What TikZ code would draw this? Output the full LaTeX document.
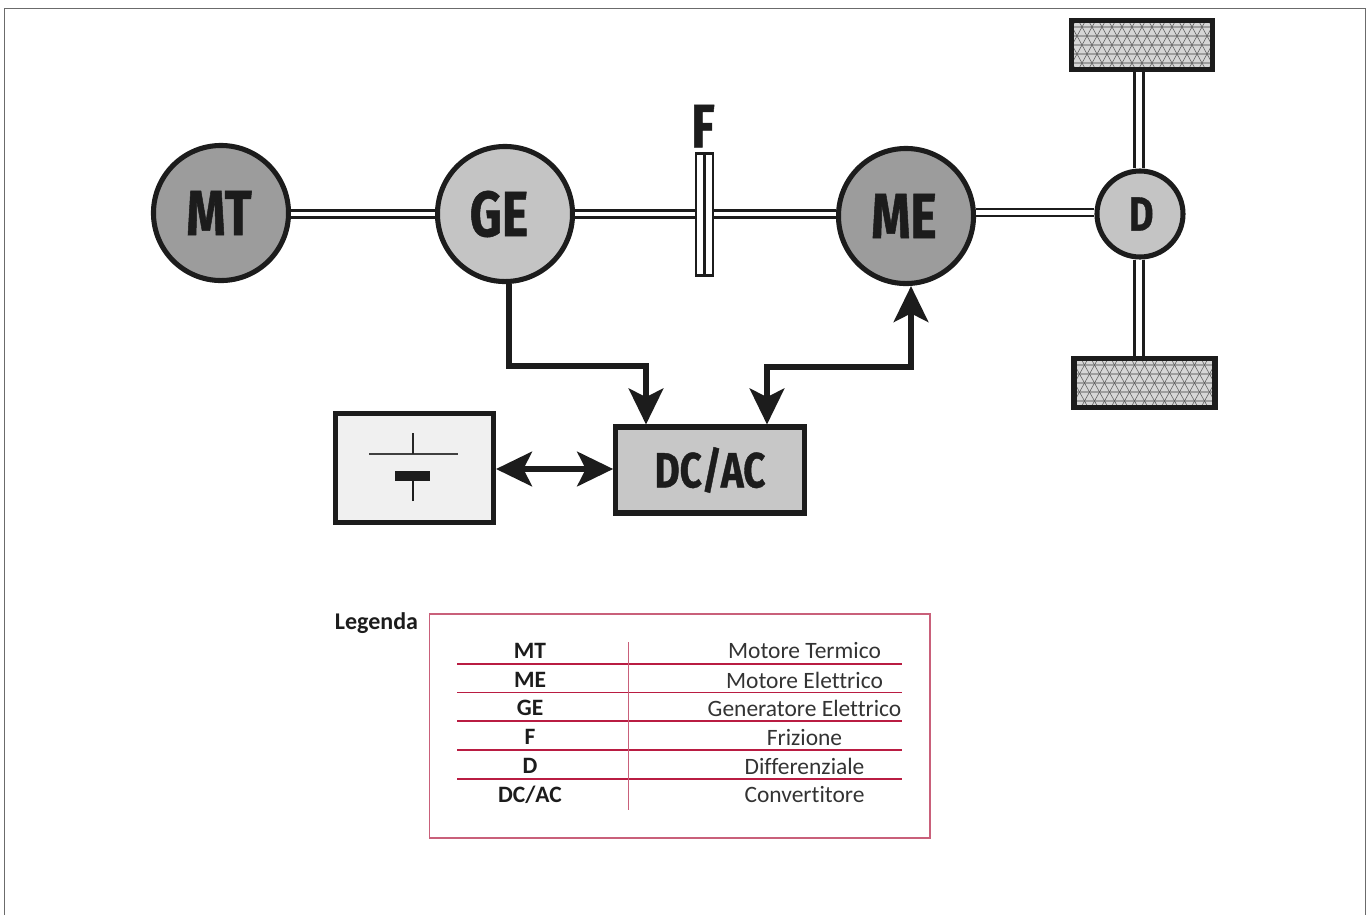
\documentclass[tikz,border=0pt]{standalone}
\usepackage{fontspec}
\usetikzlibrary{arrows.meta,calc}
\setmainfont{Carlito}[Ligatures=NoCommon]
\newfontfamily\labfont[FakeStretch=0.78,FakeBold=0.8]{Fira Sans Bold}
\definecolor{crim}{HTML}{B91C42}
\definecolor{crimpale}{HTML}{C9607A}
\definecolor{darkfill}{HTML}{9C9C9C}
\definecolor{lightfill}{HTML}{C4C4C4}
\definecolor{ink}{HTML}{1C1C1C}
\tikzset{
  px/.style={x=0.75pt,y=-0.75pt},
  unit/.style={draw=ink,line width=3.8pt,inner sep=0pt,text=ink,font=\labfont\fontsize{48}{48}\selectfont},
  motor/.style={unit,circle,minimum size=101.3pt,fill=darkfill},
  genr/.style={motor,fill=lightfill},
  diff/.style={unit,circle,minimum size=64.5pt,fill=lightfill,font=\labfont\fontsize{36}{36}\selectfont},
  shaft/.style={draw=ink,line width=2pt,double=white,double distance=3.4pt},
  axle/.style={draw=ink,line width=1.9pt,double=white,double distance=5pt},
  wheel/.style={draw=ink,line width=4.2pt,minimum width=105.5pt,minimum height=37pt,inner sep=0pt,fill=black!16,
    path picture={
      \begin{scope}[shift={(path picture bounding box.center)},x=0.75pt,y=-0.75pt]
        \foreach \r in {-18,-9,...,18} \draw[black!38,line width=0.8pt] (-80,\r) -- (80,\r);
        \foreach \c in {-120,-110,...,120} {
          \draw[black!65,line width=0.4pt] (\c-15,-27) -- (\c+15,27);
          \draw[black!65,line width=0.4pt] (\c+15,-27) -- (\c-15,27);
        }
      \end{scope}}},
  flow/.style={draw=ink,line width=3.8pt,line join=miter},
  bigarrow/.tip={Stealth[length=27pt,width=26pt,inset=6.5pt]},
  rule/.style={draw=crim,line width=0.8pt},
  key/.style={font=\fontsize{17.6}{19}\selectfont\bfseries,text=ink,inner sep=0pt},
  desc/.style={font=\fontsize{17.6}{19}\selectfont,text=ink!90,inner sep=0pt}
}
\begin{document}
\begin{tikzpicture}[px]
\useasboundingbox (0,0) rectangle (1372,915);
% outer frame
\coordinate (fa) at (4.5,915);
\coordinate (fb) at (4.5,8.5);
\coordinate (fc) at (1365.5,8.5);
\coordinate (fd) at (1365.5,915);
\draw[draw=black!58,line width=1.2pt] (fa) -- (fb) -- (fc) -- (fd);
% level helpers
\coordinate (s1) at (0,214);
\coordinate (s2) at (0,212.5);
\coordinate (s3) at (0,469);
\coordinate (ax) at (1139,0);
% nodes
\node[motor] (MT) at (221,213) {MT\kern3pt};
\node[genr] (GE) at (505,214) {GE\kern9pt};
\node[motor] (ME) at (906,216) {ME\kern3pt};
\node[diff] (D) at (1140,214) {\kern2pt D};
\node[draw=ink,line width=1.8pt,fill=white,minimum width=12.5pt,minimum height=91.5pt,inner sep=0pt] (FR) at (704.5,214.5) {};
\node[text=ink,inner sep=0pt,font=\labfont\fontsize{46}{46}\selectfont] (Flab) at (703,126) {F};
\node[wheel] (W1) at (1142,45) {};
\node[wheel] (W2) at (1144.5,383) {};
\node[unit,fill=lightfill!95!white,minimum width=141.5pt,minimum height=64.5pt,font=\labfont\fontsize{37}{37}\selectfont] (DC) at (710,470) {DC/AC};
\node[draw=ink,line width=3.8pt,fill=black!6,minimum width=118.5pt,minimum height=82pt,inner sep=0pt] (BAT) at (414.5,468) {};
% clutch divider
\draw[draw=ink,line width=1.6pt] (FR.north) -- (FR.south);
% shafts
\draw[shaft] (MT.east |- s1) -- (GE.west |- s1);
\draw[shaft] (GE.east |- s1) -- (FR.west |- s1);
\draw[shaft] (FR.east |- s1) -- (ME.west |- s1);
\draw[shaft] (ME.east |- s2) -- (D.west |- s2);
\draw[axle] (D.north -| ax) -- (W1.south -| ax);
\draw[axle] (D.south -| ax) -- (W2.north -| ax);
% battery symbol
\coordinate (b1) at ($(BAT.center)+(-45.5,-14)$);
\coordinate (b2) at ($(BAT.center)+(43.5,-14)$);
\coordinate (b3) at ($(BAT.center)+(-1.5,-35)$);
\coordinate (b4) at ($(BAT.center)+(-1.5,-14)$);
\coordinate (b5) at ($(BAT.center)+(-1.5,33)$);
\coordinate (b6) at ($(BAT.center)+(-1.5,8)$);
\draw[draw=black!75,line width=2.1pt] (b1) -- (b2);
\draw[draw=black!85,line width=2.1pt] (b3) -- (b4);
\draw[draw=ink,line width=2.1pt] (b5) -- (b6);
\fill[ink] ($(BAT.center)+(-19.5,3)$) rectangle ($(BAT.center)+(15.5,13)$);
% flow connectors
\coordinate (g1) at (509,366);
\coordinate (g2) at (646,366);
\coordinate (m1) at (767,367);
\coordinate (m2) at (911,367);
\draw[flow,-bigarrow] (GE.south -| g1) -- (g1) -- (g2) -- (DC.north -| g2);
\draw[flow,bigarrow-bigarrow] (DC.north -| m1) -- (m1) -- (m2) -- (ME.south -| m2);
\draw[flow,bigarrow-bigarrow] (BAT.east |- s3) -- (DC.west |- s3);
% legend
\node[font=\fontsize{18}{19}\selectfont\bfseries,text=ink,inner sep=0pt] (LEG) at (376.5,623) {Legenda};
\coordinate (ba) at (429.5,614);
\coordinate (bb) at (930,838);
\draw[draw=crimpale,line width=1pt] (ba) rectangle (bb);
\foreach \yy/\kk/\dd/\nn in {651/MT/Motore Termico/a,680/ME/Motore Elettrico/b,708/GE/Generatore Elettrico/c,737/F/Frizione/d,766/D/Differenziale/e,795/DC\slash AC/Convertitore/f}{
  \node[key] (k\nn) at (530,\yy) {\kk};
  \node[desc] (d\nn) at (804.5,\yy) {\dd};
}
\foreach \yy/\nn in {664/a,692.5/b,721/c,750/d,779/e}{
  \coordinate (l\nn) at (457,\yy);
  \coordinate (r\nn) at (902,\yy);
  \draw[rule] (l\nn) -- (r\nn);
}
\coordinate (v1) at (628.5,642);
\coordinate (v2) at (628.5,810);
\draw[draw=crimpale,line width=0.8pt] (v1) -- (v2);
\end{tikzpicture}
\end{document}
